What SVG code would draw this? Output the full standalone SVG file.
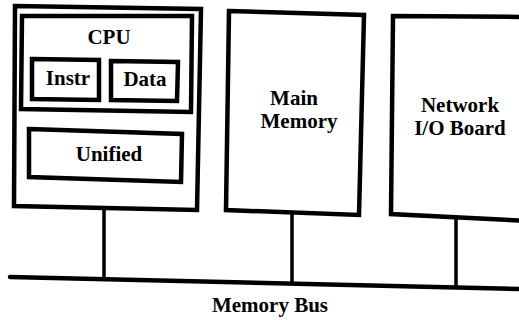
<svg xmlns="http://www.w3.org/2000/svg" width="519" height="320" viewBox="0 0 519 320">
<style>
.box{fill:none;stroke:#000;stroke-width:4.5;stroke-linejoin:miter}
.wire{fill:none;stroke:#000;stroke-width:3.5;stroke-linecap:butt}
.bus{fill:none;stroke:#000;stroke-width:4.5;stroke-linecap:round}
.t{font-family:'Liberation Serif','DejaVu Serif',serif;font-weight:bold;font-size:21px;text-anchor:middle;fill:#000}
</style>
<rect width="519" height="320" fill="#fff"/>
<g id="connectors">
<path class="bus" d="M10,277 L519,289"/>
<path class="wire" d="M104,207 L104,279"/>
<path class="wire" d="M292,213 L292,283"/>
<path class="wire" d="M456,217 L456,287"/>
</g>
<g id="cpu-board">
<polygon class="box" points="15,6 201,9 197,210 14,206"/>
</g>
<g id="cpu">
<polygon class="box" points="22,16 192,16 191,112 21,109"/>
<text class="t" x="109" y="44" font-family="Liberation Serif, serif">CPU</text>
</g>
<g id="instr">
<polygon class="box" points="32,59 99,60 99,100 32,99"/>
<text class="t" x="68" y="85" font-family="Liberation Serif, serif">Instr</text>
</g>
<g id="data">
<polygon class="box" points="111,61 178,62 177,101 111,100"/>
<text class="t" x="145" y="86" font-family="Liberation Serif, serif">Data</text>
</g>
<g id="unified">
<polygon class="box" points="29,129 182,134 181,182 29,177"/>
<text class="t" x="109" y="161" font-family="Liberation Serif, serif">Unified</text>
</g>
<g id="main-memory">
<polygon class="box" points="229,11 364,15 359,215 226,210"/>
<text class="t" x="294" y="105" font-family="Liberation Serif, serif">Main</text>
<text class="t" x="299" y="128" font-family="Liberation Serif, serif">Memory</text>
</g>
<g id="network-io">
<polygon class="box" points="393,16 530,17 530,221 391,214"/>
<text class="t" x="460" y="112" font-family="Liberation Serif, serif">Network</text>
<text class="t" x="460" y="135" font-family="Liberation Serif, serif">I/O Board</text>
</g>
<g id="bus-label">
<text class="t" x="270" y="312" font-family="Liberation Serif, serif">Memory Bus</text>
</g>
</svg>
